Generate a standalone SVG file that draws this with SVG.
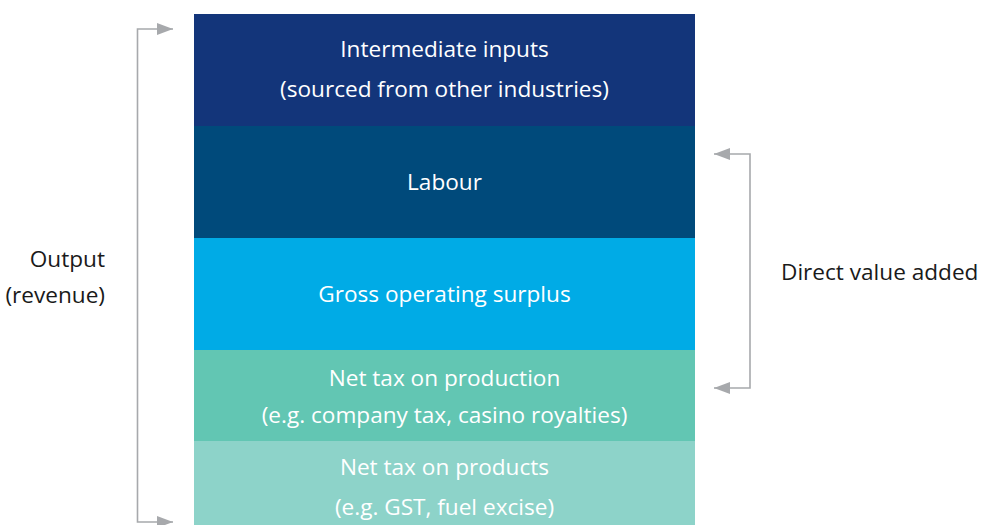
<svg xmlns="http://www.w3.org/2000/svg" width="981" height="525" viewBox="0 0 981 525">
<style>
.t{font-family:"Open Sans","Noto Sans",sans-serif;font-size:22.6px;fill:#fff;text-anchor:middle}
.l{font-family:"Open Sans","Noto Sans",sans-serif;font-size:22.6px;fill:#1a1a1a}
.c{fill:none;stroke:#a7a9ac;stroke-width:1.6}
</style>
<defs>
<marker id="ah" viewBox="0 0 16 12" refX="16" refY="6" markerWidth="16" markerHeight="12" markerUnits="userSpaceOnUse" orient="auto-start-reverse">
<path d="M0,0 L16,6 L0,12 Z" fill="#a7a9ac"/>
</marker>
</defs>
<g id="intermediate"><rect x="194" y="14" width="501" height="112" fill="#13357a"/>
<text class="t" x="444.5" y="57">Intermediate inputs</text>
<text class="t" x="444.5" y="97">(sourced from other industries)</text></g>
<g id="labour"><rect x="194" y="126" width="501" height="112" fill="#004a7b"/>
<text class="t" x="444.5" y="190">Labour</text></g>
<g id="gos"><rect x="194" y="238" width="501" height="112" fill="#00abe6"/>
<text class="t" x="444.5" y="302">Gross operating surplus</text></g>
<g id="taxproduction"><rect x="194" y="350" width="501" height="91" fill="#62c6b3"/>
<text class="t" x="444.5" y="386">Net tax on production</text>
<text class="t" x="444.5" y="423">(e.g. company tax, casino royalties)</text></g>
<g id="taxproducts"><rect x="194" y="441" width="501" height="84" fill="#8dd3c9"/>
<text class="t" x="444.5" y="475">Net tax on products</text>
<text class="t" x="444.5" y="515">(e.g. GST, fuel excise)</text></g>
<g id="labels">
<text class="l" x="105" y="267" text-anchor="end">Output</text>
<text class="l" x="105" y="303" text-anchor="end">(revenue)</text>
<text class="l" x="781" y="280">Direct value added</text>
</g>
<g id="connectors">
<path class="c" d="M173,29 H137.5 V522 H173" marker-start="url(#ah)" marker-end="url(#ah)"/>
<path class="c" d="M714,154 H750 V388 H714" marker-start="url(#ah)" marker-end="url(#ah)"/>
</g>
</svg>
